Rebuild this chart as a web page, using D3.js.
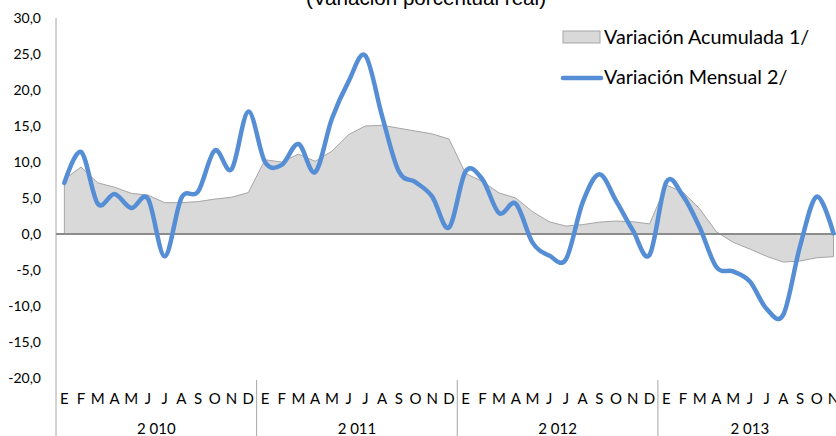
<!DOCTYPE html>
<html>
<head>
<meta charset="utf-8">
<script src="https://cdn.jsdelivr.net/npm/d3@7"></script>
<style>
  html, body { margin: 0; padding: 0; background: #fff; overflow: hidden; }
  svg { display: block; }
</style>
</head>
<body>
<div id="chart"></div>
<script>
// data
const months = ["E", "F", "M", "A", "M", "J", "J", "A", "S", "O", "N", "D"];
const years = ["2 010", "2 011", "2 012", "2 013"];
const monthsPerYear = [12, 12, 12, 11];
const yTicks = [-20, -15, -10, -5, 0, 5, 10, 15, 20, 25, 30];

const acumulada = [
  7.6, 9.3, 7.1, 6.5, 5.65, 5.4, 4.35, 4.35, 4.5, 4.85, 5.1, 5.75,
  10.3, 10.0, 11.1, 10.1, 11.5, 13.8, 15.0, 15.1, 14.7, 14.3, 13.9, 13.2,
  8.4, 7.3, 5.7, 5.0, 3.1, 1.7, 1.1, 1.3, 1.65, 1.8, 1.7, 1.4,
  6.8, 5.8, 3.5, 0.3, -1.15, -2.1, -3.1, -3.9, -3.75, -3.3, -3.15
];
const mensual = [
  7.1, 11.4, 4.2, 5.55, 3.6, 4.9, -3.1, 5.0, 5.9, 11.6, 9.0, 17.0,
  10.0, 9.6, 12.5, 8.6, 16.0, 21.2, 24.8, 16.4, 8.7, 7.2, 5.2, 0.9,
  8.7, 7.6, 2.9, 4.2, -1.2, -3.0, -3.5, 4.4, 8.3, 4.6, 0.5, -2.9,
  7.2, 5.3, 0.9, -4.6, -5.2, -6.6, -10.4, -11.2, -1.7, 5.2, 0.1
];

const titleText = "(Variación porcentual real)";
const legendLabels = ["Variación Acumulada 1/", "Variación Mensual 2/"];

const blue = "#558ED5";
const areaFill = "#D9D9D9";
const areaStroke = "#A5A5A5";
const axisColor = "#8C8C8C";
const labelFont = "Lato, 'Open Sans', sans-serif";

// one category per month, grouped by year
let cats = [];
years.forEach((yr, yi) => {
  for (let m = 0; m < monthsPerYear[yi]; m++) {
    cats.push({ key: yi + "-" + m, year: yr, month: months[m], yi: yi });
  }
});
const rows = cats.map((c, i) => ({ key: c.key, acu: acumulada[i], men: mensual[i] }));

var width = 836, height = 436;
var margin = { top: 18, left: 56, bottom: 58 };
var step = 16.72;
var plotBottom = height - margin.bottom;

var svg = d3.select("#chart")
  .append("svg")
  .attr("width", width)
  .attr("height", height);

var x = d3.scaleBand()
  .domain(cats.map(c => c.key))
  .range([margin.left, margin.left + step * cats.length])
  .padding(0);

var y = d3.scaleLinear()
  .domain([-20, 30])
  .range([plotBottom, margin.top]);

var cx = d => x(d.key) + x.bandwidth() / 2;

// title, mostly cut off at the top
svg.append("text")
  .attr("x", 426)
  .attr("y", 5)
  .attr("text-anchor", "middle")
  .style("font-family", "'Liberation Sans', Arial, sans-serif")
  .style("font-size", "20.6px")
  .style("fill", "#000")
  .text(titleText);

// accumulated area
var area = d3.area()
  .x(cx)
  .y0(y(0))
  .y1(d => y(d.acu));

svg.append("path")
  .datum(rows)
  .attr("d", area)
  .attr("fill", areaFill)
  .attr("stroke", areaStroke)
  .attr("stroke-width", 1);

// y axis labels
var yAxis = svg.append("g")
  .attr("transform", "translate(" + margin.left + ",0)")
  .call(d3.axisLeft(y).tickValues(yTicks).tickSize(0).tickPadding(15)
    .tickFormat(d => d.toFixed(1).replace(".", ",")));
yAxis.select(".domain").remove();
yAxis.selectAll("text")
  .style("font-family", labelFont)
  .style("font-size", "14px")
  .style("fill", "#000");

// vertical axis line runs down through the category labels
svg.append("line")
  .attr("x1", margin.left).attr("x2", margin.left)
  .attr("y1", margin.top).attr("y2", height)
  .attr("stroke", "#A6A6A6")
  .attr("stroke-width", 1);

// zero line (category axis crosses here)
svg.append("line")
  .attr("x1", margin.left).attr("x2", width)
  .attr("y1", y(0)).attr("y2", y(0))
  .attr("stroke", axisColor)
  .attr("stroke-width", 2);

// monthly line
var line = d3.line()
  .x(cx)
  .y(d => y(d.men))
  .curve(d3.curveCatmullRom.alpha(0));

svg.append("path")
  .datum(rows)
  .attr("d", line)
  .attr("fill", "none")
  .attr("stroke", blue)
  .attr("stroke-width", 4.5)
  .attr("stroke-linejoin", "round")
  .attr("stroke-linecap", "round");

// month labels
var xAxis = svg.append("g")
  .attr("transform", "translate(0," + plotBottom + ")")
  .call(d3.axisBottom(x).tickSize(0).tickPadding(15)
    .tickFormat((k, i) => cats[i].month));
xAxis.select(".domain").remove();
xAxis.selectAll("text")
  .style("font-family", labelFont)
  .style("font-size", "15px")
  .style("fill", "#000");

// year groups: dividers and labels
let start = 0;
years.forEach((yr, yi) => {
  var first = cats[start].key;
  var last = cats[start + monthsPerYear[yi] - 1].key;
  var x0 = x(first), x1 = x(last) + x.bandwidth();
  if (yi > 0) {
    svg.append("line")
      .attr("x1", x0).attr("x2", x0)
      .attr("y1", plotBottom + 2).attr("y2", height)
      .attr("stroke", "#A6A6A6")
      .attr("stroke-width", 1);
  }
  svg.append("text")
    .attr("x", (x0 + x1) / 2)
    .attr("y", 434)
    .attr("text-anchor", "middle")
    .style("font-family", labelFont)
    .style("font-size", "15px")
    .style("fill", "#000")
    .text(yr);
  start += monthsPerYear[yi];
});

// legend
var legend = svg.append("g");
legend.append("rect")
  .attr("x", 563).attr("y", 31)
  .attr("width", 37).attr("height", 12)
  .attr("fill", areaFill)
  .attr("stroke", areaStroke)
  .attr("stroke-width", 1);
legend.append("line")
  .attr("x1", 563).attr("x2", 601)
  .attr("y1", 78).attr("y2", 78)
  .attr("stroke", blue)
  .attr("stroke-width", 4.5)
  .attr("stroke-linecap", "round");
legend.selectAll(".legLabel")
  .data(legendLabels)
  .enter()
  .append("text")
  .attr("class", "legLabel")
  .attr("x", 604)
  .attr("y", (d, i) => 44 + i * 40)
  .style("font-family", labelFont)
  .style("font-size", "19.7px")
  .style("fill", "#000")
  .text(d => d);
</script>
</body>
</html>
